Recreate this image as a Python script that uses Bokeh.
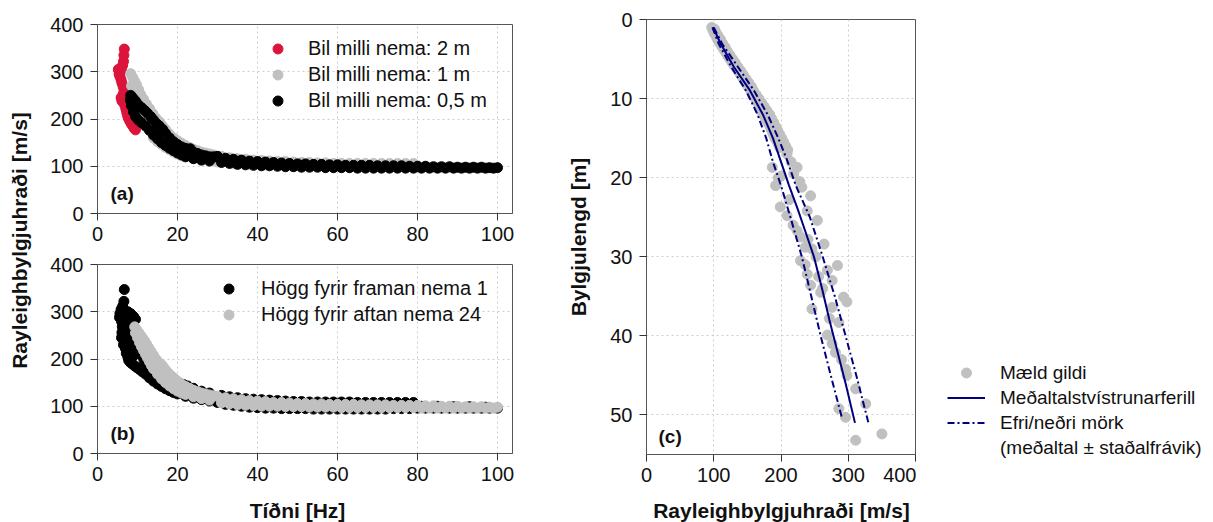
import math
from bokeh.plotting import figure
from bokeh.models import Range1d, FixedTicker, Legend, Label
from bokeh.layouts import row, column
from bokeh.embed import file_html
from bokeh.resources import INLINE

FONT = "Liberation Sans"

# ---------------- data: panel (a) ----------------
a_red_f = [6.7, 6.6, 6.5, 6.3, 5.2, 5.4, 6.0, 5.8, 5.6, 5.9, 6.1, 6.4, 6.6, 6.3, 6.0, 5.9, 6.1, 6.5,
           6.9, 7.1, 7.3, 7.5, 7.7, 8.0, 8.3, 8.6, 8.9, 9.2, 9.5]
a_red_v = [348, 335, 322, 314, 305, 295, 307, 300, 290, 283, 276, 268, 258, 250, 244, 245, 238, 234,
           228, 221, 214, 208, 202, 197, 192, 188, 184, 180, 177]

a_gray_f = [8.3, 8.8, 9.3, 9.8, 10.3, 10.8, 11.5, 12.2, 13, 13.8, 14.6, 15.5, 16.2, 17, 18, 19, 20,
            21, 22, 23, 24, 25, 26, 27, 28, 29,
            31, 33, 35, 37, 39, 41, 43, 45, 47, 49, 51, 53, 55, 57, 59, 61, 63, 65, 67, 69, 71, 73,
            75, 77, 79,
            8.5, 9, 9.5, 10, 10.5, 11, 11.5, 12, 13, 14, 15, 16, 17, 18, 19, 20, 21, 22, 24, 26, 28,
            30, 34, 38, 42, 46, 50, 54, 58, 62, 66, 70, 74, 78, 80]
a_gray_v = [296, 288, 280, 272, 262, 252, 242, 232, 222, 212, 202, 194, 186, 178, 168, 160, 154,
            149, 144, 140, 136, 133, 130, 128, 126, 124,
            121, 118, 116, 115, 113, 112, 111, 110, 110, 109, 108, 108, 107, 107, 106, 106, 106,
            106, 106, 106, 106, 106, 106, 106, 106,
            270, 258, 245, 232, 220, 210, 200, 192, 176, 160, 152, 146, 140, 135, 130, 126, 122, 120,
            116, 113, 111, 109, 106, 104, 103, 103, 102, 102, 101, 101, 101, 101, 101, 101, 101]

a_black_f = [8.3, 8.8, 9.5, 10.2, 11, 11.8, 12.5, 13.3, 14, 14.8, 15.5, 16.3, 17, 18, 19, 20, 21,
             22, 23, 24, 25, 26, 27, 28, 29,
             30, 32, 34, 36, 38, 40, 42, 44, 46, 48, 50, 52, 54, 56, 58, 60, 62, 64, 66, 68, 70,
             72, 74, 76, 78, 80, 82, 84, 86, 88, 90, 92, 94, 96, 98, 100,
             8.2, 8.5, 9, 9.5, 10.2, 11, 12, 13, 14, 15, 16, 17, 18, 19, 20, 21, 22, 24, 26, 28,
             31, 33, 35, 37, 39, 41, 43, 45, 47, 49, 51, 53, 55, 57, 59, 61, 63, 65, 67, 69, 71,
             73, 75, 77, 79, 81, 83, 85, 87, 89, 91, 93, 95, 97, 99,
             15.6, 16.0, 23.2, 30.0]
a_black_v = [250, 245, 238, 230, 224, 218, 212, 205, 198, 190, 185, 178, 170, 160, 152, 146, 141,
             138, 136, 130, 127, 124, 122, 120, 120,
             119, 117, 115, 113, 111, 110, 109, 108, 107, 106, 105, 105, 104, 104, 103, 103, 102,
             102, 102, 102, 101, 101, 101, 101, 100, 100, 100, 99, 99, 99, 98, 98, 98, 98, 97, 97,
             240, 228, 215, 205, 198, 192, 185, 176, 166, 158, 150, 144, 138, 133, 128, 124, 120,
             116, 113, 111,
             108, 106, 104, 103, 102, 101, 101, 100, 99, 99, 98, 98, 98, 97, 97, 97, 97, 96, 96,
             96, 96, 96, 96, 96, 96, 96, 96, 96, 96, 96, 96, 96, 96, 96, 96,
             180, 176, 137, 121]

# ---------------- data: panel (b) ----------------
b_black_f = [6.7, 6.6, 6.3, 5.9, 5.6, 5.5, 6.0, 6.4, 7.0, 7.6, 8.3, 9.0, 9.5, 6.2, 6.8, 7.5, 8.2,
             8.9, 6.1, 6.8, 7.5, 8.3, 6.0, 6.6, 7.2, 8.0, 6.5, 7.0, 7.6, 8.4, 7.2, 7.6, 8.0, 8.8,
             7.8, 8.2, 8.8, 9.4, 9.2, 9.6, 9.3, 9.8, 10.4, 11.0, 11.6, 12.3, 13.0,
             8.6, 9.2, 9.8, 10.5, 11.2, 12, 13, 14, 15, 16, 17, 18, 19, 20, 22, 24, 26, 28,
             30, 32, 34, 36, 38, 40, 42, 44, 46, 48, 50, 52, 54, 56, 58, 60, 62, 64, 66, 68, 70,
             72, 74, 76, 78, 80, 82, 84, 86, 88, 90, 92, 94, 96, 98, 100,
             10, 11, 12, 12.8, 13.6, 14.5, 15.5, 16.5, 17.5, 18.5, 19.5, 20.5, 21.5, 22.5, 24, 26,
             28,
             31, 33, 35, 37, 39, 41, 43, 45, 47, 49, 51, 53, 55, 57, 59, 61, 63, 65, 67, 69, 71,
             73, 75, 77, 79, 81, 85, 89, 93, 97]
b_black_v = [347, 322, 312, 305, 296, 288, 280, 290, 298, 300, 296, 290, 284, 268, 276, 282, 280,
             272, 256, 262, 266, 262, 245, 240, 248, 250, 230, 222, 232, 238, 212, 204, 218, 224,
             197, 193, 205, 212, 240, 260, 250, 230, 218, 208, 198, 190, 182,
             190, 186, 182, 178, 173, 168, 160, 153, 147, 142, 137, 133, 129, 126, 121, 117, 114,
             111,
             108, 104, 102, 100, 98, 97, 96, 96, 95, 95, 95, 95, 94, 94, 94, 94, 94, 94, 94, 94,
             94, 94, 95, 95, 95, 96, 96, 96, 96, 96, 96, 96, 96, 96, 96, 96,
             250, 238, 226, 216, 206, 196, 188, 180, 170, 162, 155, 149, 146, 143, 138, 132, 128,
             123, 120, 118, 116, 115, 114, 113, 112, 111, 110, 110, 109, 109, 109, 109, 109, 109,
             108, 108, 108, 108, 108, 108, 108, 108, 100, 100, 99, 99, 98]

b_gray_f = [9.3, 9.8, 10.3, 10.8, 11.3, 11.8, 12.3, 12.8, 13.4, 14, 14.6, 15.3, 16, 16.5, 17.2, 18,
            19, 20, 21, 22, 23, 24, 25, 26, 27, 28, 29,
            30, 32, 34, 36, 38, 40, 42, 44, 46, 48, 50, 52, 54, 56, 58, 60, 62, 64, 66, 68, 70,
            72, 74, 76, 78, 80, 82, 84, 86, 88, 90, 92, 94, 96, 98, 100,
            9.5, 10, 10.5, 11, 11.5, 12, 12.5, 13, 13.5, 14, 15, 16, 17, 18, 19, 20, 21, 22, 24,
            26, 28,
            31, 33, 35, 37, 39, 41, 43, 45, 47, 49, 51, 53, 55, 57, 59, 61, 63, 65, 67, 69, 71,
            73, 75, 77, 79, 81, 83, 85, 87, 89, 91, 93, 95, 97, 99]
b_gray_v = [268, 262, 256, 250, 244, 238, 231, 224, 216, 208, 200, 193, 188, 183, 175, 168, 160,
            153, 147, 142, 138, 134, 131, 128, 126, 124, 122,
            121, 118, 116, 114, 112, 111, 110, 108, 108, 107, 106, 106, 105, 105, 104, 104, 104,
            104, 103, 103, 103, 103, 102, 102, 102, 102, 101, 101, 100, 100, 100, 99, 99, 99, 98,
            98,
            255, 245, 235, 226, 218, 210, 202, 194, 186, 179, 168, 158, 150, 143, 137, 132, 128,
            125, 120, 116, 113,
            107, 105, 103, 102, 101, 100, 100, 100, 99, 99, 99, 98, 98, 98, 98, 97, 97, 97, 97,
            97, 97, 97, 97, 97, 97, 96, 96, 96, 96, 96, 96, 96, 96, 96, 96]

# ---------------- data: panel (c) ----------------
c_pts_len = [1.0, 1.4, 1.8, 2.2, 2.6, 3.0, 3.4, 3.8, 4.2, 4.6, 5.0, 5.4, 5.8, 6.2, 6.6, 7.0, 7.4,
             7.8, 8.2, 8.6, 9.0, 9.4, 9.8, 10.2, 10.6, 11.0, 11.4, 11.8, 12.2, 12.6, 13.0, 13.4,
             13.8, 14.2, 14.6, 15.0, 15.4, 15.8, 16.2,
             1.2, 1.6, 2.0, 2.5, 3.0, 3.5, 4.0, 4.5, 5.0, 5.5, 6.0, 6.5, 7.0, 7.5, 8.0, 8.5, 9.0,
             9.5, 10.0, 10.5, 11.0, 11.5, 12.0, 12.5, 13.0, 13.5, 14.0, 14.5, 15.0, 15.5, 16.0, 16.5,
             17.0, 18.7, 18.7, 18.0, 19.5, 21.0, 21.2, 20.0, 22.3, 23.7, 24.8, 24.2, 25.4, 26.7,
             27.5, 28.4, 29.0, 30.5, 31.1, 31.7, 32.2, 33.0, 33.6, 34.5, 35.1, 35.7, 36.6, 36.4,
             38.3, 39.9, 42.1, 44.2, 45.0, 46.7, 48.6, 49.2, 50.3, 52.4, 53.2,
             19.8, 20.5, 22.8, 26.0, 27.8, 28.8, 30.0, 31.0, 32.5, 34.0, 37.8, 41.0, 43.0]
c_pts_vel = [97, 99, 101, 104, 106, 109, 112, 115, 118, 121, 124, 127, 130, 134, 137, 140, 143,
             146, 149, 152, 155, 157, 160, 163, 166, 168, 170, 172, 175, 178, 180, 183, 185, 187,
             189, 191, 194, 196, 198,
             101, 103, 106, 110, 113, 117, 120, 124, 128, 132, 136, 140, 144, 148, 152, 156, 159,
             163, 167, 171, 175, 179, 183, 186, 189, 192, 195, 198, 201, 204, 207, 210,
             209, 187, 224, 215, 219, 192, 231, 196, 244, 199, 209, 239, 254, 224,
             229, 264, 246, 229, 284, 269, 239, 276, 244, 259, 293, 298, 246, 276,
             286, 269, 281, 296, 298, 311, 326, 286, 296, 350, 311,
             200, 228, 212, 218, 240, 236, 252, 236, 256, 262, 272, 276, 290]

c_mean_len = [1, 3, 6, 9, 12, 15, 18, 21, 24, 27, 30, 34, 38, 42, 46, 51]
c_mean_vel = [99, 110, 130, 154, 173, 188, 200, 212, 225, 237, 249, 261, 272, 284, 296, 310]
c_up_len = [1, 3, 6, 9, 12, 15, 18, 21, 25, 30, 35, 40, 45, 51]
c_up_vel = [100, 112, 136, 160, 180, 196, 210, 222, 243, 262, 280, 296, 312, 330]
c_lo_len = [1, 3, 6, 9, 12, 15, 18, 21, 25, 30, 35, 40, 45, 50.5]
c_lo_vel = [98, 107, 126, 148, 165, 178, 188, 200, 214, 231, 245, 259, 274, 291]

freq_ticks = [0, 20, 40, 60, 80, 100]
vel_ticks = [0, 100, 200, 300, 400]
len_ticks = [0, 10, 20, 30, 40, 50]

RED = "#dc143c"
GRAY = "#c0c0c0"
NAVY = "#000080"
FRAME = "#555555"
TXT = "#111111"
DASHDOT = "7 3 2 3"
NAN = [float("nan")]  # legend-only renderers carry no visible data


def style(p, xticks, yticks):
    p.outline_line_color = FRAME
    p.outline_line_width = 1
    p.xaxis.ticker = FixedTicker(ticks=xticks)
    p.yaxis.ticker = FixedTicker(ticks=yticks)
    for ax in (p.xaxis[0], p.yaxis[0]):
        ax.axis_line_color = FRAME
        ax.major_tick_line_color = "#333333"
        ax.major_tick_out = 7
        ax.major_tick_in = 0
        ax.minor_tick_out = 0
        ax.minor_tick_in = 0
        ax.major_label_text_font = FONT
        ax.major_label_text_font_size = "20px"
        ax.major_label_text_color = TXT
    p.xaxis.major_label_standoff = 6
    p.yaxis.major_label_standoff = 7
    for g in (p.xgrid[0], p.ygrid[0]):
        g.grid_line_color = "#cfcfcf"
        g.grid_line_dash = "2 3"
        g.grid_line_width = 1


def panel_label(p, text, x, y):
    p.add_layout(Label(x=x, y=y, x_units="screen", y_units="screen", text=text,
                       text_font=FONT, text_font_size="19px", text_font_style="bold",
                       text_baseline="middle", text_color=TXT))


def make_legend(items, loc, spacing, gw, standoff, size):
    return Legend(items=items, location=loc, padding=0, margin=0, spacing=spacing,
                  label_height=20, glyph_height=25, glyph_width=gw, label_standoff=standoff,
                  border_line_color=None, background_fill_alpha=0, label_text_font=FONT,
                  label_text_font_size=size, label_text_color=TXT)


common = dict(output_backend="svg", toolbar_location=None, title=None, frame_align=False)


def blank(w, h):
    f = figure(width=w, height=h, x_axis_location=None, y_axis_location=None,
               min_border=0, x_range=Range1d(0, 1), y_range=Range1d(0, 1), **common)
    f.outline_line_color = None
    f.grid.visible = False
    return f


# ---------- left label strip ----------
fl = blank(40, 522)
fl.add_layout(Label(x=19, y=282, x_units="screen", y_units="screen",
                    text="Rayleighbylgjuhraði [m/s]", angle=math.pi / 2,
                    text_align="center", text_baseline="middle", text_font=FONT,
                    text_font_size="21px", text_font_style="bold", text_color=TXT))

# ---------- panel (a) ----------
fa = figure(width=490, height=250, x_range=Range1d(0, 103.75), y_range=Range1d(0, 400),
            min_border_left=57, min_border_right=18, min_border_top=24, min_border_bottom=37,
            **common)
style(fa, freq_ticks, vel_ticks)
r_red = fa.scatter(a_red_f, a_red_v, size=10, color=RED)
r_gry = fa.scatter(a_gray_f, a_gray_v, size=10, color=GRAY)
r_blk = fa.scatter(a_black_f, a_black_v, size=10, color="black")
fa.add_layout(make_legend([("Bil milli nema: 2 m", [r_red]), ("Bil milli nema: 1 m", [r_gry]),
                           ("Bil milli nema: 0,5 m", [r_blk])], (168, 100), 1, 25, 18, "20px"))
panel_label(fa, "(a)", 13, 20)

# ---------- panel (b) ----------
fb = figure(width=490, height=245, x_range=Range1d(0, 103.75), y_range=Range1d(0, 400),
            min_border_left=57, min_border_right=18, min_border_top=14, min_border_bottom=42,
            **common)
style(fb, freq_ticks, vel_ticks)
r_bb = fb.scatter(b_black_f, b_black_v, size=10, color="black")
r_bg = fb.scatter(b_gray_f, b_gray_v, size=10, color=GRAY)
fb.add_layout(make_legend([("Högg fyrir framan nema 1", [r_bb]),
                           ("Högg fyrir aftan nema 24", [r_bg])], (119, 126), 1, 25, 20, "20px"))
panel_label(fb, "(b)", 13, 20)

sb = blank(490, 27)
sb.add_layout(Label(x=257, y=12, x_units="screen", y_units="screen", text="Tíðni [Hz]",
                    text_align="center", text_baseline="middle", text_font=FONT,
                    text_font_size="21px", text_font_style="bold", text_color=TXT))

# ---------- panel (c) ----------
fc = figure(width=386, height=495, x_range=Range1d(0, 400), y_range=Range1d(55, 0),
            min_border_left=116, min_border_right=1, min_border_top=19, min_border_bottom=41,
            **common)
style(fc, vel_ticks, len_ticks)
fc.yaxis.axis_label = "Bylgjulengd [m]"
fc.yaxis.axis_label_text_font = FONT
fc.yaxis.axis_label_text_font_size = "21px"
fc.yaxis.axis_label_text_font_style = "bold"
fc.yaxis.axis_label_text_color = TXT
fc.yaxis.axis_label_standoff = 17
fc.scatter(c_pts_vel, c_pts_len, size=10, color=GRAY)
fc.line(c_mean_vel, c_mean_len, line_color=NAVY, line_width=2)
fc.line(c_up_vel, c_up_len, line_color=NAVY, line_width=2, line_dash=DASHDOT)
fc.line(c_lo_vel, c_lo_len, line_color=NAVY, line_width=2, line_dash=DASHDOT)
panel_label(fc, "(c)", 12, 18)

# legend of panel (c), drawn beside it
flg = blank(297, 495)
g_pts = flg.scatter(x=NAN, y=NAN, size=10, color=GRAY)
g_mean = flg.line(x=NAN, y=NAN, line_color=NAVY, line_width=2)
g_band = flg.line(x=NAN, y=NAN, line_color=NAVY, line_width=2, line_dash=DASHDOT)
g_none = flg.line(x=NAN, y=NAN, line_alpha=0)
flg.add_layout(make_legend([("Mæld gildi", [g_pts]), ("Meðaltalstvístrunarferill", [g_mean]),
                            ("Efri/neðri mörk", [g_band]),
                            ("(meðaltal ± staðalfrávik)", [g_none])],
                           (31, 35), 0, 38, 15, "19px"))

sc = blank(683, 27)
sc.add_layout(Label(x=251, y=12, x_units="screen", y_units="screen",
                    text="Rayleighbylgjuhraði [m/s]", text_align="center",
                    text_baseline="middle", text_font=FONT, text_font_size="21px",
                    text_font_style="bold", text_color=TXT))

layout = row(fl, column(fa, fb, sb, spacing=0),
             column(row(fc, flg, spacing=0), sc, spacing=0), spacing=0)
open("out.html", "w").write(file_html(layout, INLINE))
